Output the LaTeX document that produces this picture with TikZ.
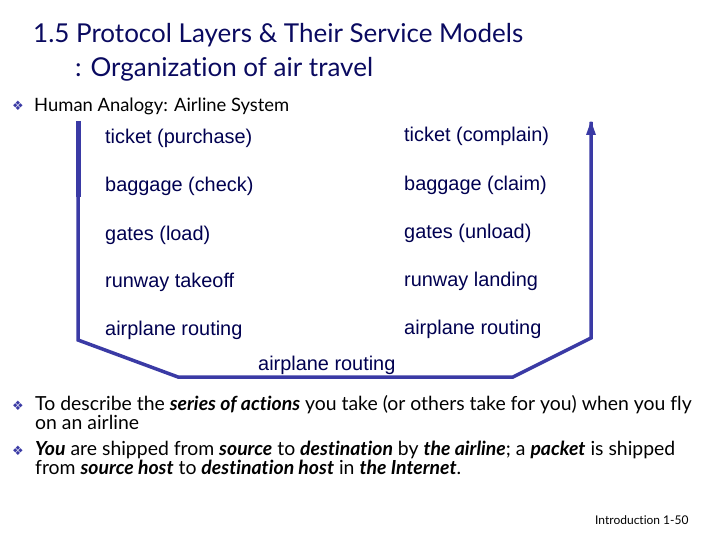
\documentclass[tikz,border=0pt]{standalone}
\usepackage{fontspec}
\setmainfont{Lato}[Ligatures={NoCommon,NoRare,NoDiscretionary}]
\newfontfamily\arialf{Liberation Sans}
\newfontfamily\symf{DejaVu Sans}
\usetikzlibrary{arrows.meta}
\definecolor{navy}{RGB}{10,10,96}
\definecolor{linec}{RGB}{58,58,165}
\definecolor{labc}{RGB}{0,0,80}
\begin{document}
\begin{tikzpicture}[x=1pt,y=-1pt,
  title/.style={anchor=base west, inner sep=0pt, text=navy, font=\fontsize{26}{30}\selectfont},
  lab/.style={anchor=west, inner sep=0pt, text=labc, font=\arialf\fontsize{19.9}{22}\selectfont},
  body/.style={anchor=base west, inner sep=0pt, text=black, font=\fontsize{19.4}{22}\selectfont},
  bul/.style={anchor=base west, inner sep=0pt, text=linec, font=\symf\fontsize{13}{15}\selectfont},
  path/.style={draw=linec, line width=3.5pt, line join=miter}]
\useasboundingbox (0,0) rectangle (720,540);
% title
\node[title] (t1) at (33,43) {1.5 Protocol Layers \& Their Service Models};
\node[title] (t2) at (75,77) {: Organization of air travel};
\node[bul] (b0) at (12,111) {❖};
\node[body, font=\fontsize{18.4}{21}\selectfont] (h0) at (34,112) {Human Analogy: Airline System};
% labels
\node[lab] (l1) at (105,138) {ticket (purchase)};
\node[lab] (l2) at (105,186) {baggage (check)};
\node[lab] (l3) at (105,235) {gates (load)};
\node[lab] (l4) at (105,282) {runway takeoff};
\node[lab] (l5) at (105,330) {airplane routing};
\node[lab] (r1) at (404,136) {ticket (complain)};
\node[lab] (r2) at (404,185) {baggage (claim)};
\node[lab] (r3) at (404,233) {gates (unload)};
\node[lab] (r4) at (404,281) {runway landing};
\node[lab] (r5) at (404,329) {airplane routing};
\node[lab] (m) at (258,365) {airplane routing};
% path
\coordinate (p0) at (78,121);
\coordinate (p1) at (78,197);
\coordinate (p2) at (78,340);
\coordinate (p3) at (178,377);
\coordinate (p4) at (513,377);
\coordinate (p5) at (591,338);
\coordinate (p6) at (591,122);
\draw[draw=linec, line width=5pt] (p0) -- (p1);
\draw[path] (p1) -- (p2) -- (p3) -- (p4) -- (p5) -- (p6);
\fill[linec] (p6) ++(0,-1) -- ++(5,14) -- ++(-10,0) -- cycle;
% body bullets
\node[bul] (b1) at (12,410) {❖};
\node[body] (s1) at (35,410) {To describe the \textbf{\textit{series of actions}} you take (or others take for you) when you fly};
\node[body] (s1b) at (35,429) {on an airline};
\node[bul] (b2) at (12,455) {❖};
\node[body] (s2) at (35,455) {\textbf{\textit{You}} are shipped from \textbf{\textit{source}} to \textbf{\textit{destination}} by \textbf{\textit{the airline}}; a \textbf{\textit{packet}} is shipped};
\node[body] (s2b) at (35,474) {from \textbf{\textit{source host}} to \textbf{\textit{destination host}} in \textbf{\textit{the Internet}}.};
\node[anchor=base west, inner sep=0pt, font=\fontsize{12}{14}\selectfont] (ft) at (595,524) {Introduction 1-50};
\end{tikzpicture}
\end{document}
